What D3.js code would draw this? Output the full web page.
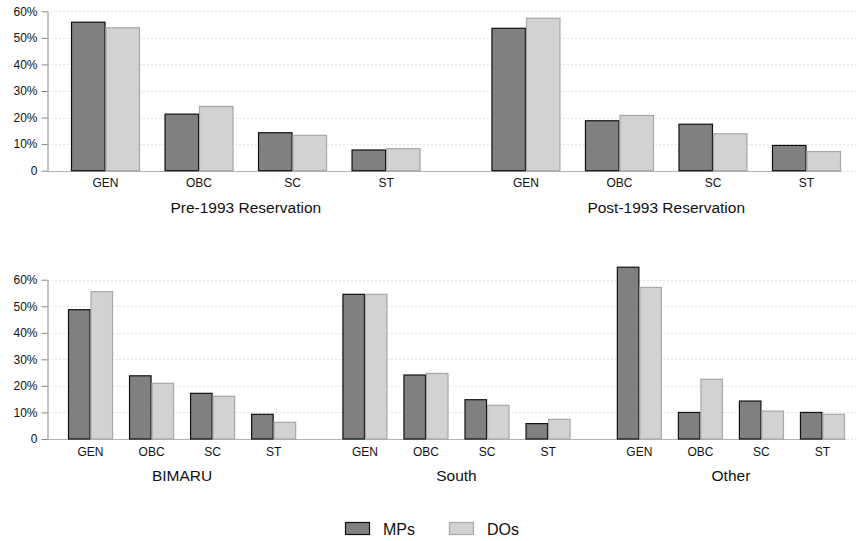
<!DOCTYPE html>
<html>
<head>
<meta charset="utf-8">
<script src="https://cdn.jsdelivr.net/npm/d3@7"></script>
<style>
  body { margin: 0; background: #fff; }
  svg { display: block; font-family: "Liberation Sans", Arial, Helvetica, sans-serif; }
</style>
</head>
<body>
<div id="chart"></div>
<script>
// data
const series = ["MPs", "DOs"];
const categories = ["GEN", "OBC", "SC", "ST"];
const topGroups = ["Pre-1993 Reservation", "Post-1993 Reservation"];
const bottomGroups = ["BIMARU", "South", "Other"];
const yTicks = [0, 10, 20, 30, 40, 50, 60];

const pre93MPs = [55.9, 21.3, 14.3, 7.8];
const pre93DOs = [53.8, 24.2, 13.3, 8.3];
const post93MPs = [53.6, 18.8, 17.5, 9.5];
const post93DOs = [57.4, 20.8, 13.9, 7.2];
const bimaruMPs = [48.7, 23.8, 17.2, 9.3];
const bimaruDOs = [55.5, 21.0, 16.1, 6.3];
const southMPs = [54.5, 24.1, 14.8, 5.8];
const southDOs = [54.5, 24.7, 12.7, 7.4];
const otherMPs = [64.7, 10.0, 14.3, 10.0];
const otherDOs = [57.1, 22.5, 10.5, 9.3];

const values = {
    "Pre-1993 Reservation": [pre93MPs, pre93DOs],
    "Post-1993 Reservation": [post93MPs, post93DOs],
    "BIMARU": [bimaruMPs, bimaruDOs],
    "South": [southMPs, southDOs],
    "Other": [otherMPs, otherDOs]
};

const W = 859, H = 541;
const fills = { MPs: "#808080", DOs: "#d2d2d2" };
const strokes = { MPs: "#111", DOs: "#a8a8a8" };

const svg = d3.select("#chart").append("svg")
    .attr("width", W)
    .attr("height", H);

function panel(groups, yBottom, yTop, xRange) {
    const left = 47.5, right = 857;
    const y = d3.scaleLinear().domain([0, 60]).range([yBottom, yTop]);

    const gx = d3.scaleBand().domain(groups).range(xRange)
        .paddingInner(0.1686).paddingOuter(0);
    const cx = d3.scaleBand().domain(categories).range([0, gx.bandwidth()])
        .paddingInner(0.262).paddingOuter(0);
    const sx = d3.scaleBand().domain(series).range([0, cx.bandwidth()]);

    const g = svg.append("g");

    // dotted grid
    g.selectAll(".grid").data(yTicks).enter().append("line")
        .attr("x1", left).attr("x2", right)
        .attr("y1", d => Math.round(y(d)) + 0.5)
        .attr("y2", d => Math.round(y(d)) + 0.5)
        .attr("stroke", "#c4c4c4")
        .attr("stroke-dasharray", "1 3");

    // baseline
    g.append("line")
        .attr("x1", left).attr("x2", xRange[1] + 1)
        .attr("y1", Math.round(y(0)) + 0.5).attr("y2", Math.round(y(0)) + 0.5)
        .attr("stroke", "#b4b4b4");

    // bars
    groups.forEach(grp => {
        const gg = g.append("g").attr("transform", `translate(${gx(grp)},0)`);
        categories.forEach((cat, ci) => {
            series.forEach((s, si) => {
                const v = values[grp][si][ci];
                gg.append("rect")
                    .attr("x", cx(cat) + sx(s) + 0.5)
                    .attr("y", y(v))
                    .attr("width", sx.bandwidth() - 1)
                    .attr("height", y(0) - y(v))
                    .attr("fill", fills[s])
                    .attr("stroke", strokes[s])
                    .attr("stroke-width", 1.2);
            });
        });

        // category labels
        const ax = gg.append("g")
            .attr("transform", `translate(0,${y(0)})`)
            .call(d3.axisBottom(cx).tickSize(0).tickPadding(8));
        ax.select(".domain").remove();
        ax.selectAll("text")
            .attr("font-size", 12)
            .attr("font-family", "Liberation Sans, Arial, sans-serif")
            .attr("fill", "#111");

        // group title
        gg.append("text")
            .attr("x", gx.bandwidth() / 2)
            .attr("y", y(0) + 42)
            .attr("text-anchor", "middle")
            .attr("font-size", 15.5)
            .attr("fill", "#111")
            .text(grp);
    });

    // y axis
    const ay = g.append("g")
        .attr("transform", `translate(${left},0)`)
        .call(d3.axisLeft(y).tickValues(yTicks)
            .tickFormat(d => d === 0 ? "0" : d + "%")
            .tickSize(6).tickSizeOuter(0).tickPadding(4));
    ay.select(".domain").attr("stroke", "#888");
    ay.selectAll(".tick line").attr("stroke", "#888");
    ay.selectAll("text")
        .attr("font-size", 12)
        .attr("font-family", "Liberation Sans, Arial, sans-serif")
        .attr("fill", "#111");
}

panel(topGroups, 170.7, 11.3, [71, 841]);
panel(bottomGroups, 439, 279.7, [68, 845]);

// legend
const legend = svg.append("g").attr("transform", "translate(345,522)");
const legX = d3.scaleOrdinal().domain(series).range([0, 104]);
series.forEach(s => {
    const lg = legend.append("g").attr("transform", `translate(${legX(s)},0)`);
    lg.append("rect")
        .attr("x", 0.5).attr("y", 0.5)
        .attr("width", 24).attr("height", 12)
        .attr("fill", fills[s])
        .attr("stroke", strokes[s])
        .attr("stroke-width", 1.2);
    lg.append("text")
        .attr("x", 38).attr("y", 12.5)
        .attr("font-size", 16)
        .attr("fill", "#111")
        .text(s);
});
</script>
</body>
</html>
